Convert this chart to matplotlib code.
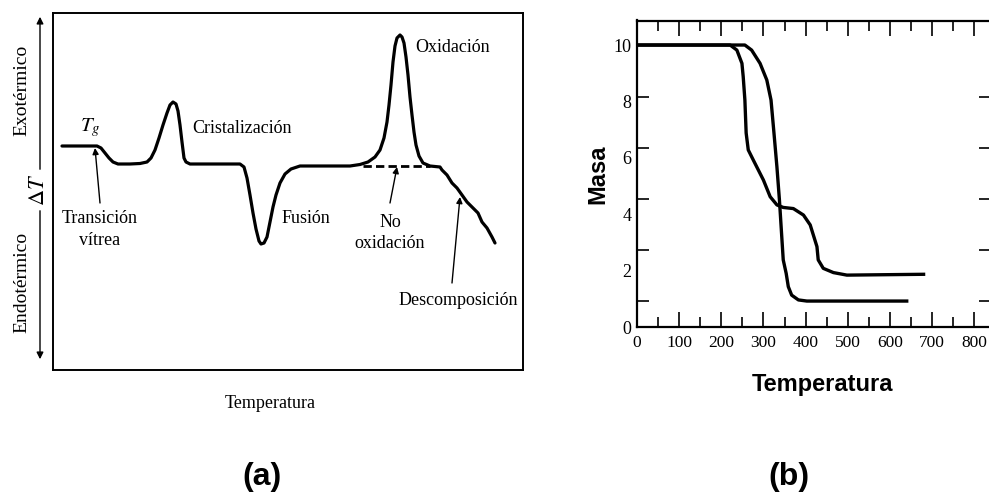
import numpy as np
import matplotlib
matplotlib.use("Agg")
import matplotlib.pyplot as plt
from matplotlib.ticker import MultipleLocator, FixedLocator

plt.rcParams['font.family'] = ['Liberation Serif', 'DejaVu Serif']
plt.rcParams['mathtext.fontset'] = 'stix'

# (a) curva DTA esquemática: temperatura (u.a.) y ΔT (u.a.)
dta_temp = [1.8, 8.8, 9.6, 10.4, 11.2, 12.0, 13.0, 15.4, 17.4, 18.8, 19.6, 20.4,
            21.2, 22.0, 22.8, 23.4, 24.0, 24.6, 25.0, 25.4, 25.8, 26.2, 26.6,
            27.4, 37.4, 38.2, 38.8, 39.4, 40.0, 40.6, 41.2, 41.6, 42.2, 42.8,
            43.4, 44.0, 44.6, 45.4, 46.4, 47.6, 49.4, 59.4, 61.4, 63.0, 64.4,
            65.4, 66.2, 66.8, 67.2, 67.6, 68.0, 68.4, 68.8, 69.4, 69.8, 70.2,
            70.6, 71.0, 71.4, 71.8, 72.2, 72.6, 73.2, 74.0, 75.4, 77.4, 77.8,
            78.8, 79.8, 80.8, 81.8, 82.8, 84.0, 85.0, 85.8, 86.8, 87.8, 88.4]
dta_dT = [3.4, 3.4, 3.0, 2.0, 1.0, 0.2, -0.2, -0.2, -0.1, 0.2, 1.0, 2.6,
          5.0, 7.6, 10.0, 11.6, 12.2, 11.8, 10.4, 7.6, 4.2, 1.0, 0.2,
          -0.2, -0.2, -0.8, -3.0, -6.4, -10.0, -13.2, -15.6, -16.2, -16.0, -14.8,
          -11.8, -8.8, -6.4, -4.0, -2.2, -1.2, -0.6, -0.6, -0.3, 0.2, 1.2,
          2.6, 5.0, 8.2, 11.6, 15.6, 20.2, 23.4, 25.0, 25.6, 25.2, 24.0,
          21.2, 17.6, 13.2, 9.6, 6.2, 3.6, 1.4, 0.0, -0.6, -0.8, -1.4,
          -2.4, -4.0, -5.0, -6.4, -7.8, -9.0, -10.0, -11.8, -13.0, -14.8, -16.0]
# línea base sin oxidación (discontinua)
base_temp = [62.0, 75.4]
base_dT = [-0.6, -0.6]

# (b) curvas TGA: temperatura y masa
tga1_temp = [0, 221, 237, 249, 252, 256, 259, 264, 276, 300, 316, 332, 347,
             371, 395, 411, 427, 430, 442, 466, 498, 684]
tga1_masa = [10, 10, 9.82, 9.35, 8.88, 8.05, 6.88, 6.28, 5.92, 5.21, 4.62,
             4.33, 4.24, 4.2, 3.97, 3.62, 2.85, 2.38, 2.08, 1.93, 1.84, 1.87]
tga2_temp = [0, 256, 272, 292, 308, 318, 325, 332, 338, 343, 347, 354, 359,
             367, 383, 403, 644]
tga2_masa = [10, 10, 9.82, 9.35, 8.76, 8.05, 6.88, 5.68, 4.5, 3.32, 2.38,
             1.9, 1.43, 1.13, 0.96, 0.92, 0.92]
y_labels = [0, 2, 4, 6, 8, 10]
y_marks = [0.92, 2.73, 4.54, 6.35, 8.17, 10.0]

W, H = 989, 494
fig = plt.figure(figsize=(W / 100, H / 100), dpi=100)

# ---------- (a) ----------
ax1 = fig.add_axes([53 / W, (H - 370) / H, 470 / W, 357 / H])
ax1.plot(dta_temp, dta_dT, color='black', lw=2.3, solid_joinstyle='round',
         solid_capstyle='round')
ax1.plot(base_temp, base_dT, color='black', lw=2.0, ls=(0, (3, 1.5)))
ax1.set_xlim(0, 94)
ax1.set_ylim(-41.4, 30)
ax1.set_xticks([])
ax1.set_yticks([])
for s in ax1.spines.values():
    s.set_linewidth(1.4)

fs = 13
arrow = dict(arrowstyle='-|>', color='black', lw=1.0, mutation_scale=9,
             shrinkA=0, shrinkB=0)
ax1.text(7.4, 7.0, r'$T_g$', fontsize=15, ha='center', va='center')
ax1.annotate('', xy=(8.4, 3.0), xytext=(9.4, -8.0), arrowprops=arrow)
ax1.text(9.4, -11.0, 'Transición', fontsize=fs, ha='center', va='center')
ax1.text(9.4, -15.4, 'vítrea', fontsize=fs, ha='center', va='center')
ax1.text(27.8, 7.0, 'Cristalización', fontsize=fs, ha='left', va='center')
ax1.text(45.8, -11.0, 'Fusión', fontsize=fs, ha='left', va='center')
ax1.text(72.4, 23.2, 'Oxidación', fontsize=fs, ha='left', va='center')
ax1.annotate('', xy=(68.8, -0.8), xytext=(67.4, -8.0), arrowprops=arrow)
ax1.text(67.4, -11.8, 'No', fontsize=fs, ha='center', va='center')
ax1.text(67.4, -16.0, 'oxidación', fontsize=fs, ha='center', va='center')
ax1.annotate('', xy=(81.4, -6.8), xytext=(79.8, -24.0), arrowprops=arrow)
ax1.text(93.0, -27.4, 'Descomposición', fontsize=fs, ha='right', va='center')

# eje ΔT con flechas exotérmico / endotérmico
ax_x = 40 / W
fig.add_artist(matplotlib.patches.FancyArrowPatch(
    (ax_x, 1 - 172 / H), (ax_x, 1 - 14 / H), transform=fig.transFigure,
    arrowstyle='-|>', mutation_scale=10, color='black', lw=1.0))
fig.add_artist(matplotlib.patches.FancyArrowPatch(
    (ax_x, 1 - 208 / H), (ax_x, 1 - 362 / H), transform=fig.transFigure,
    arrowstyle='-|>', mutation_scale=10, color='black', lw=1.0))
fig.text(ax_x, 1 - 190 / H, r'$\Delta T$', fontsize=16, rotation=90,
         ha='center', va='center')
fig.text(22 / W, 1 - 90 / H, 'Exotérmico', fontsize=14, rotation=90,
         ha='center', va='center')
fig.text(22 / W, 1 - 282 / H, 'Endotérmico', fontsize=14, rotation=90,
         ha='center', va='center')
fig.text(270 / W, 1 - 403 / H, 'Temperatura', fontsize=13,
         ha='center', va='center')

# ---------- (b) ----------
ax2 = fig.add_axes([637 / W, (H - 327) / H, 354 / W, 306.5 / H])
ax2.plot(tga1_temp, tga1_masa, color='black', lw=2.4, solid_capstyle='butt')
ax2.plot(tga2_temp, tga2_masa, color='black', lw=2.4, solid_capstyle='butt')
ax2.set_xlim(0, 840)
ax2.set_ylim(0, 10.87)
for s in ax2.spines.values():
    s.set_linewidth(1.6)

ax2.xaxis.set_major_locator(MultipleLocator(100))
ax2.xaxis.set_minor_locator(MultipleLocator(50))
ax2.yaxis.set_major_locator(FixedLocator(y_labels))
ax2.yaxis.set_minor_locator(FixedLocator(y_marks))
ax2.set_xticklabels([str(int(v)) for v in ax2.get_xticks()])
ax2.tick_params(axis='x', which='both', direction='in', top=True,
                width=1.2, labelsize=12.5, pad=6)
ax2.tick_params(axis='x', which='major', length=11)
ax2.tick_params(axis='x', which='minor', length=7)
ax2.tick_params(axis='y', which='major', length=0, labelsize=13, pad=4)
ax2.tick_params(axis='y', which='minor', direction='in', length=8.5,
                width=1.2, right=True)
ax2.set_ylabel('Masa', fontsize=17, fontweight='bold',
               family='Liberation Sans', labelpad=3)
fig.text(822 / W, 1 - 384 / H, 'Temperatura', fontsize=17, fontweight='bold',
         family='Liberation Sans', ha='center', va='center')

# rótulos de los paneles
fig.text(262 / W, 1 - 477 / H, '(a)', fontsize=23, fontweight='bold',
         family='Liberation Sans', ha='center', va='center')
fig.text(789 / W, 1 - 477 / H, '(b)', fontsize=23, fontweight='bold',
         family='Liberation Sans', ha='center', va='center')

fig.savefig('out.png', dpi=100)
